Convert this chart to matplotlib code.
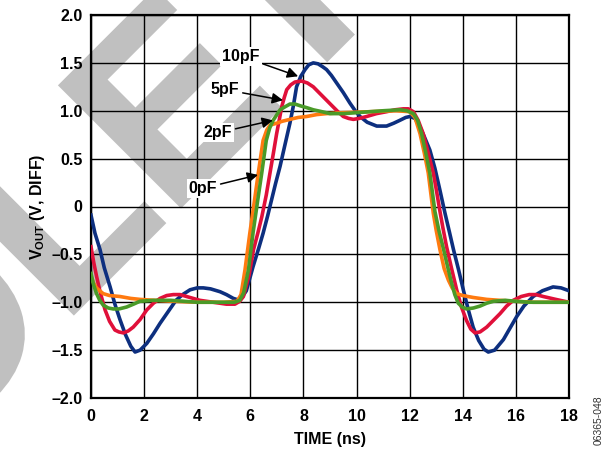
import numpy as np
import matplotlib
matplotlib.use("Agg")
import matplotlib.pyplot as plt
from matplotlib.textpath import TextPath
from matplotlib.font_manager import FontProperties
from matplotlib.patches import PathPatch
from matplotlib.transforms import Affine2D

# --- data (time in ns, VOUT in V diff) ---
t_10pf = [0, 0.15, 0.34, 0.5, 0.72, 0.9, 1.09, 1.3, 1.5, 1.66, 1.85, 2.1, 2.35, 2.6, 2.9,
          3.2, 3.45, 3.73, 4.0, 4.23, 4.5, 4.86, 5.1, 5.36, 5.6, 5.85, 6.1, 6.3, 6.48, 6.65,
          6.8, 6.95, 7.12, 7.3, 7.49, 7.62, 7.74, 7.9, 8.06, 8.2, 8.37, 8.55, 8.72, 8.87,
          9.05, 9.25, 9.5, 9.75, 9.95, 10.13, 10.4, 10.76, 11.13, 11.4, 11.63, 11.85, 12.01,
          12.2, 12.39, 12.55, 12.76, 12.95, 13.14, 13.33, 13.5, 13.65, 13.85, 14.02, 14.2,
          14.39, 14.6, 14.8, 14.96, 15.2, 15.53, 15.8, 16.03, 16.3, 16.65, 17.0, 17.4, 17.7, 18.0]
v_10pf = [-0.09, -0.28, -0.45, -0.64, -0.84, -1.02, -1.18, -1.34, -1.46, -1.52, -1.50, -1.43,
          -1.33, -1.22, -1.10, -0.98, -0.92, -0.87, -0.85, -0.85, -0.86, -0.89, -0.92, -0.96,
          -0.98, -0.88, -0.63, -0.45, -0.28, -0.10, 0.07, 0.24, 0.42, 0.64, 0.87, 1.05, 1.25,
          1.36, 1.43, 1.48, 1.50, 1.49, 1.46, 1.43, 1.37, 1.29, 1.19, 1.08, 1.00, 0.94, 0.88,
          0.84, 0.84, 0.87, 0.90, 0.93, 0.94, 0.92, 0.83, 0.73, 0.59, 0.40, 0.17, -0.07, -0.27,
          -0.45, -0.67, -0.87, -1.07, -1.26, -1.40, -1.49, -1.52, -1.50, -1.39, -1.26, -1.15,
          -1.04, -0.94, -0.88, -0.84, -0.85, -0.88]

t_5pf = [0, 0.1, 0.21, 0.35, 0.53, 0.7, 0.9, 1.05, 1.22, 1.4, 1.59, 1.85, 2.1, 2.35, 2.6,
         2.85, 3.1, 3.35, 3.6, 4.1, 4.6, 5.1, 5.42, 5.6, 5.74, 5.95, 6.12, 6.28, 6.43, 6.6,
         6.74, 6.87, 6.99, 7.1, 7.18, 7.28, 7.37, 7.52, 7.68, 7.93, 8.15, 8.37, 8.62, 8.87,
         9.12, 9.3, 9.5, 9.7, 9.88, 10.1, 10.38, 10.75, 11.13, 11.45, 11.76, 11.95, 12.14,
         12.32, 12.51, 12.7, 12.89, 13.0, 13.14, 13.25, 13.39, 13.58, 13.77, 13.95, 14.14,
         14.3, 14.46, 14.65, 14.9, 15.15, 15.4, 15.65, 15.9, 16.2, 16.5, 16.75, 17.03, 17.5, 18.0]
v_5pf = [-0.42, -0.58, -0.73, -0.90, -1.08, -1.20, -1.29, -1.31, -1.32, -1.30, -1.26, -1.18,
         -1.08, -1.01, -0.96, -0.93, -0.92, -0.92, -0.94, -0.98, -1.00, -1.02, -1.02, -0.99,
         -0.94, -0.72, -0.45, -0.28, -0.11, 0.12, 0.35, 0.56, 0.76, 0.92, 1.04, 1.14, 1.22,
         1.27, 1.30, 1.31, 1.29, 1.25, 1.18, 1.11, 1.04, 0.99, 0.94, 0.92, 0.91, 0.92, 0.94,
         0.97, 0.99, 1.01, 1.02, 1.02, 0.99, 0.90, 0.76, 0.56, 0.35, 0.18, -0.05, -0.22, -0.42,
         -0.65, -0.87, -1.05, -1.19, -1.28, -1.32, -1.31, -1.26, -1.19, -1.12, -1.04, -0.98,
         -0.94, -0.92, -0.92, -0.94, -0.97, -1.00]

t_2pf = [0, 0.1, 0.21, 0.33, 0.46, 0.65, 0.84, 1.05, 1.34, 1.6, 1.84, 2.35, 3.0, 3.5, 4.0,
         4.5, 5.0, 5.4, 5.6, 5.75, 5.93, 6.1, 6.27, 6.43, 6.6, 6.73, 6.86, 7.0, 7.12, 7.3,
         7.49, 7.68, 7.9, 8.15, 8.37, 8.7, 9.0, 9.5, 10.0, 10.5, 11.0, 11.63, 11.9, 12.14,
         12.3, 12.45, 12.6, 12.76, 12.95, 13.1, 13.28, 13.43, 13.58, 13.7, 13.83, 13.98,
         14.14, 14.4, 14.65, 14.9, 15.15, 15.6, 16.0, 16.5, 17.0, 17.5, 18.0]
v_2pf = [-0.70, -0.82, -0.91, -0.98, -1.03, -1.06, -1.07, -1.07, -1.05, -1.02, -0.99, -0.98,
         -0.98, -0.99, -1.00, -1.00, -1.00, -1.00, -0.98, -0.90, -0.66, -0.28, 0.05, 0.35,
         0.69, 0.82, 0.90, 0.96, 1.01, 1.04, 1.07, 1.07, 1.05, 1.03, 1.01, 0.99, 0.97, 0.97,
         0.98, 0.99, 1.00, 1.01, 1.00, 0.97, 0.90, 0.76, 0.57, 0.35, -0.05, -0.25, -0.45,
         -0.63, -0.80, -0.92, -1.01, -1.05, -1.07, -1.06, -1.04, -1.01, -0.99, -0.98, -0.99,
         -1.00, -1.00, -1.00, -1.00]

t_0pf = [0, 0.1, 0.21, 0.33, 0.46, 0.7, 1.09, 1.5, 1.84, 2.4, 3.1, 4.0, 5.0, 5.5, 5.65, 5.8,
         5.98, 6.15, 6.3, 6.48, 6.62, 6.74, 6.87, 6.99, 7.2, 7.49, 7.8, 8.12, 8.5, 8.87, 9.5,
         10.5, 11.5, 12.0, 12.2, 12.39, 12.55, 12.7, 12.89, 13.0, 13.14, 13.3, 13.46, 13.6,
         13.77, 14.0, 14.39, 14.9, 15.4, 16.0, 16.65, 17.3, 18.0]
v_0pf = [-0.73, -0.80, -0.85, -0.88, -0.91, -0.93, -0.94, -0.96, -0.97, -0.98, -0.99, -1.00,
         -1.00, -0.99, -0.92, -0.66, -0.28, 0.05, 0.35, 0.69, 0.80, 0.85, 0.86, 0.87, 0.89,
         0.91, 0.93, 0.94, 0.96, 0.97, 0.98, 0.99, 1.00, 0.99, 0.93, 0.76, 0.56, 0.35, -0.07,
         -0.25, -0.45, -0.65, -0.77, -0.85, -0.91, -0.93, -0.95, -0.97, -0.98, -0.99, -1.00,
         -1.00, -1.00]

x_ticks = [0, 2, 4, 6, 8, 10, 12, 14, 16, 18]
y_ticks = [-2.0, -1.5, -1.0, -0.5, 0, 0.5, 1.0, 1.5, 2.0]
y_tick_labels = ["–2.0", "–1.5", "–1.0", "–0.5", "0", "0.5", "1.0", "1.5", "2.0"]

# label text, text position (t, V), arrow tip (t, V)
callouts = [
    ("10pF", (5.65, 1.57), (7.80, 1.36)),
    ("5pF", (5.05, 1.22), (7.23, 1.11)),
    ("2pF", (4.78, 0.77), (6.85, 0.90)),
    ("0pF", (4.22, 0.19), (6.29, 0.33)),
]

WATERMARK = "OBSOLETE"

plt.rcParams['font.family'] = ['Liberation Sans', 'DejaVu Sans']
plt.rcParams['font.weight'] = 'bold'
plt.rcParams['mathtext.fontset'] = 'custom'
plt.rcParams['mathtext.rm'] = 'Liberation Sans:bold'
plt.rcParams['mathtext.bf'] = 'Liberation Sans:bold'
plt.rcParams['mathtext.default'] = 'bf'

W, H = 616, 451
fig = plt.figure(figsize=(W / 100, H / 100), dpi=100)
fig.patch.set_facecolor('white')

# watermark in pixel coordinates, drawn behind the plot
bg = fig.add_axes([0, 0, 1, 1], zorder=-1)
bg.set_xlim(0, W)
bg.set_ylim(0, H)
bg.axis('off')
wm_prop = FontProperties(family='Liberation Sans', weight='bold')
wm_size = 248
full = TextPath((0, 0), WATERMARK, size=wm_size, prop=wm_prop)
p6 = TextPath((0, 0), WATERMARK[:6], size=wm_size, prop=wm_prop)
p5 = TextPath((0, 0), WATERMARK[:5], size=wm_size, prop=wm_prop)
e_verts = p6.vertices[len(p5.vertices):]
e_codes = p6.codes[len(p5.vertices):]
e_left = e_verts[e_codes != 79][:, 0].min()
tr = Affine2D().translate(-e_left, 0).rotate_deg(45).translate(181, H - 206)
bg.add_patch(PathPatch(tr.transform_path(full), facecolor='#c0c0c0', edgecolor='#c0c0c0',
                       lw=2.5))

ax = fig.add_axes([91 / W, 53 / H, 478 / W, 383 / H])
ax.set_facecolor('none')

ax.plot(t_10pf, v_10pf, color='#0d2f7f', lw=2.6, zorder=3, solid_joinstyle='round')
ax.plot(t_5pf, v_5pf, color='#e0103a', lw=2.6, zorder=3, solid_joinstyle='round')
ax.plot(t_0pf, v_0pf, color='#ff7a10', lw=2.6, zorder=3, solid_joinstyle='round')
ax.plot(t_2pf, v_2pf, color='#4a9a28', lw=2.6, zorder=3, solid_joinstyle='round')

ax.set_xlim(0, 18)
ax.set_ylim(-2, 2)
ax.set_xticks(x_ticks)
ax.set_yticks(y_ticks)
ax.set_yticklabels(y_tick_labels)
ax.grid(True, color='black', lw=1.0)
ax.set_axisbelow(True)
ax.tick_params(length=0, labelsize=11.5, pad=6)
ax.tick_params(axis='x', pad=8)
for s in ax.spines.values():
    s.set_linewidth(1.6)

for label, xy_text, xy_tip in callouts:
    ax.annotate(label, xy=xy_tip, xytext=xy_text, ha='center', va='center',
                fontsize=11.5, fontweight='bold', zorder=4,
                bbox=dict(boxstyle='square,pad=0.12', fc='white', ec='none'),
                arrowprops=dict(arrowstyle='-|>', color='black', lw=1.1,
                                mutation_scale=16, shrinkA=1, shrinkB=0))

ax.set_xlabel("TIME (ns)", fontsize=11.5, fontweight='bold', labelpad=6)
ax.set_ylabel(r"V$_{OUT}$ (V, DIFF)", fontsize=11.5, fontweight='bold', labelpad=3)

fig.text(599 / W, 1 - 420 / H, "06365-048", rotation=90, fontsize=7.5,
         fontweight='normal', color='#333333', ha='center', va='center')

fig.savefig("out.png", dpi=100)
